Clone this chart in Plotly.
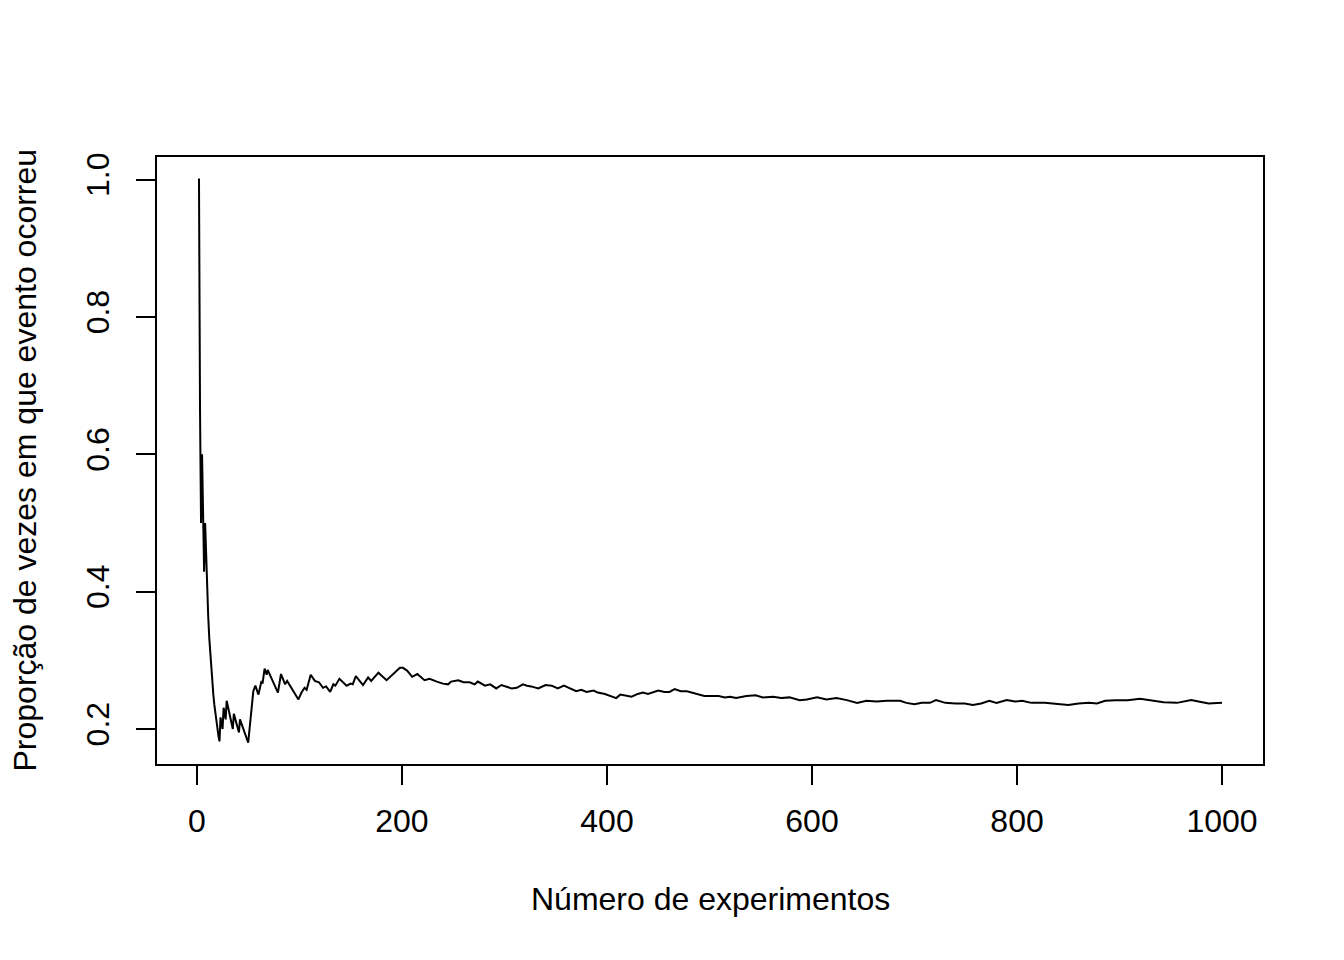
#!/usr/bin/env python
# coding: utf-8

import plotly.graph_objects as go

experimentos = [
    1, 2, 3, 4, 5, 6, 7, 8, 9, 10, 11, 12, 13, 14, 15, 16, 17, 18, 19, 20, 21, 22,
    23, 25, 26, 28, 29, 35, 36, 41, 42, 50, 55, 57, 60, 63, 64, 66, 68, 69,
    79, 82, 86, 88, 99, 102, 105, 107, 111, 115, 119, 123, 126, 130, 133, 135, 139,
    146, 150, 152, 155, 162, 167, 170, 177, 185, 188, 193, 195, 198, 201, 205,
    210, 215, 222, 227, 234, 240, 245, 248, 255, 260, 266, 271, 274, 281, 286,
    292, 297, 302, 307, 312, 318, 322, 326, 333, 340, 346, 352, 358, 364, 370,
    375, 380, 387, 391, 398, 403, 409, 413, 418, 424, 430, 435, 440, 445, 450,
    456, 461, 466, 472, 478, 483, 489, 495, 502, 509, 515, 520, 526, 536, 545,
    552, 562, 570, 578, 588, 595, 605, 614, 624, 634, 644, 653, 663, 673, 686,
    692, 700, 707, 715, 721, 730, 740, 749, 757, 765, 773, 780, 790, 798, 805,
    814, 827, 839, 850, 860, 870, 878, 886, 896, 908, 920, 930, 943, 956, 970,
    977, 987, 1000,
]
proporcao = [
    1.0, 1.0, 0.667, 0.5, 0.6, 0.5, 0.429, 0.5, 0.444, 0.4, 0.364, 0.333, 0.308,
    0.286, 0.267, 0.25, 0.235, 0.222, 0.211, 0.2, 0.19, 0.182,
    0.217, 0.2, 0.231, 0.214, 0.241, 0.2, 0.222, 0.195, 0.214, 0.18, 0.255, 0.263,
    0.25, 0.27, 0.266, 0.288, 0.279, 0.286,
    0.253, 0.28, 0.265, 0.27, 0.243, 0.253, 0.26, 0.257, 0.279, 0.27, 0.268, 0.26,
    0.262, 0.254, 0.265, 0.263, 0.273,
    0.263, 0.266, 0.265, 0.277, 0.264, 0.275, 0.27, 0.282, 0.271, 0.275, 0.282,
    0.285, 0.289, 0.289, 0.285,
    0.276, 0.28, 0.271, 0.273, 0.269, 0.266, 0.265, 0.269, 0.271, 0.268, 0.268,
    0.265, 0.269, 0.263, 0.265,
    0.259, 0.264, 0.261, 0.259, 0.26, 0.265, 0.263, 0.262, 0.259, 0.264, 0.263,
    0.259, 0.263, 0.259, 0.255,
    0.257, 0.254, 0.256, 0.253, 0.251, 0.248, 0.245, 0.25, 0.249, 0.247, 0.251,
    0.253, 0.251, 0.254, 0.256,
    0.254, 0.254, 0.258, 0.255, 0.255, 0.253, 0.251, 0.248, 0.248, 0.248, 0.246,
    0.247, 0.245, 0.248, 0.249,
    0.246, 0.247, 0.245, 0.246, 0.242, 0.243, 0.246, 0.243, 0.245, 0.242, 0.238,
    0.241, 0.24, 0.241, 0.241,
    0.238, 0.236, 0.238, 0.238, 0.242, 0.238, 0.237, 0.237, 0.235, 0.237, 0.241,
    0.238, 0.242, 0.24, 0.241,
    0.238, 0.238, 0.236, 0.235, 0.237, 0.238, 0.237, 0.241, 0.242, 0.242, 0.244,
    0.242, 0.239, 0.238, 0.242,
    0.24, 0.237, 0.238,
]

x_ticks = [0, 200, 400, 600, 800, 1000]
y_ticks = [0.2, 0.4, 0.6, 0.8, 1.0]
y_ticklabels = ["0.2", "0.4", "0.6", "0.8", "1.0"]

font = dict(family="Liberation Sans, Arial, sans-serif", size=32, color="black")

fig = go.Figure()
fig.add_trace(go.Scatter(x=experimentos, y=proporcao, mode="lines",
                         line=dict(color="black", width=2), showlegend=False))

axis_style = dict(showline=True, mirror=True, linecolor="black", linewidth=1.5,
                  ticks="outside", ticklen=19, tickwidth=1.5, tickcolor="black",
                  showgrid=False, zeroline=False, tickfont=font)

fig.update_xaxes(range=[-38.96, 1039.96], tickvals=x_ticks, ticklabelstandoff=9,
                 **axis_style)
fig.update_yaxes(range=[0.1490, 1.0328], tickvals=y_ticks, ticktext=y_ticklabels,
                 tickangle=-90, ticklabelstandoff=14, **axis_style)

# axis titles placed like R's base graphics
fig.add_annotation(text="Número de experimentos", xref="paper", yref="paper",
                   x=0.5, y=0, yanchor="middle", yshift=-135, showarrow=False,
                   font=font)
fig.add_annotation(text="Proporção de vezes em que evento ocorreu", xref="paper",
                   yref="paper", x=0, y=0.5, xanchor="center", xshift=-133,
                   textangle=-90, showarrow=False, font=font)

# page body has an 8px margin, so the figure is 8px smaller on each side
fig.update_layout(width=1336, height=952, plot_bgcolor="white", paper_bgcolor="white",
                  margin=dict(l=149, r=81, t=149, b=196, pad=0))

fig.write_html("out.html")
